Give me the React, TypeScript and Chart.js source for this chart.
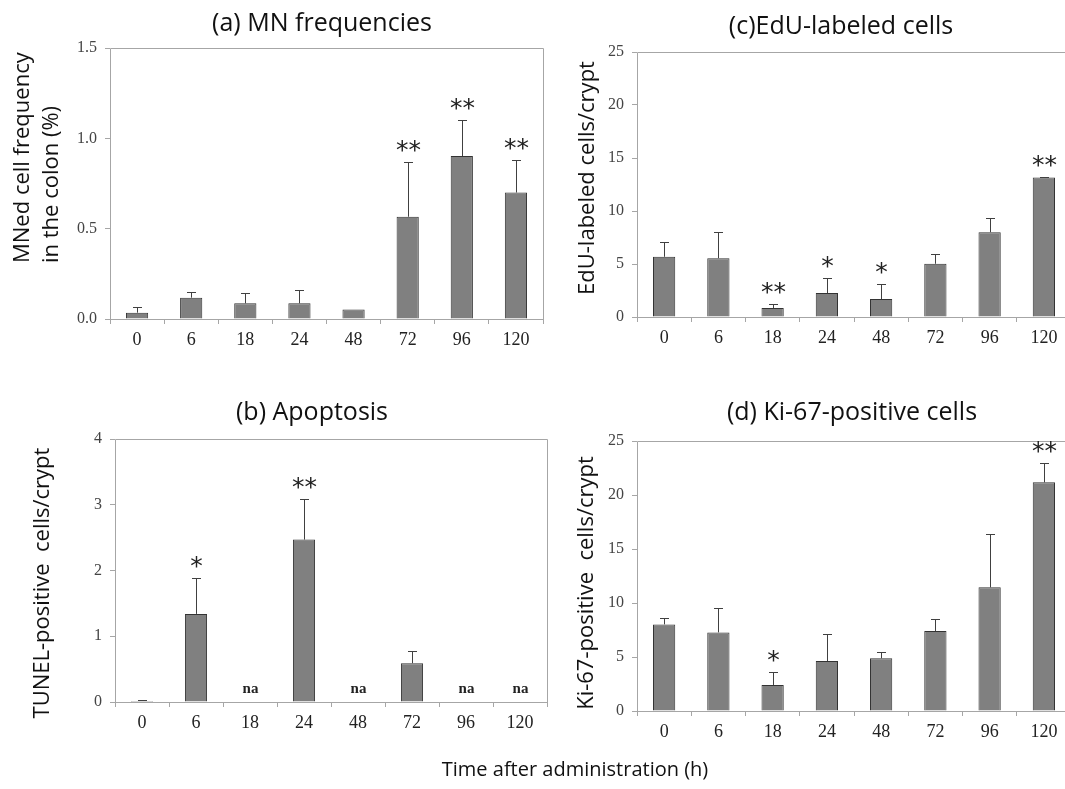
import React, { useEffect, useRef } from 'react';
import { Chart, registerables } from 'chart.js';
Chart.register(...registerables);

const categories = ['0', '6', '18', '24', '48', '72', '96', '120'];

// (a) MN frequencies
const mnMean = [0.035, 0.118, 0.087, 0.087, 0.052, 0.566, 0.902, 0.70];
const mnSD = [0.03, 0.03, 0.057, 0.073, 0, 0.303, 0.198, 0.18];
const mnSig = ['', '', '', '', '', '**', '**', '**'];

// (b) Apoptosis
const apoMean = [0.015, 1.34, null, 2.47, null, 0.59, null, null];
const apoSD = [0.01, 0.55, null, 0.62, null, 0.18, null, null];
const apoSig = ['', '*', '', '**', '', '', '', ''];
const apoNA = [false, false, true, false, true, false, true, true];

// (c) EdU-labeled cells
const eduMean = [5.68, 5.55, 0.85, 2.26, 1.69, 5.02, 8.0, 13.17];
const eduSD = [1.37, 2.51, 0.37, 1.41, 1.41, 0.91, 1.31, 0.03];
const eduSig = ['', '', '**', '*', '*', '', '', '**'];

// (d) Ki-67-positive cells
const kiMean = [8.02, 7.28, 2.41, 4.63, 4.88, 7.41, 11.45, 21.17];
const kiSD = [0.56, 2.26, 1.23, 2.47, 0.61, 1.08, 4.95, 1.83];
const kiSig = ['', '', '*', '', '', '', '', '**'];

const noNA = [false, false, false, false, false, false, false, false];

const W = 1080;
const H = 789;
const Y_W = 70;
const X_H = 40;
const AXIS_COLOR = '#a6a6a6';

type Panel = {
  title: string;
  titleX: number;
  titleY: number;
  yTitle: string[];
  yTitleX: number[];
  yTitleY: number;
  yTitleAlign: CanvasTextAlign;
  area: { l: number; r: number; t: number; b: number };
  rightEdge: boolean;
  max: number;
  step: number;
  decimals: number;
  mean: (number | null)[];
  sd: (number | null)[];
  sig: string[];
  na: boolean[];
  footer?: { text: string; x: number; y: number };
};

const panels: Panel[] = [
  {
    title: '(a) MN frequencies', titleX: 322, titleY: 31,
    yTitle: ['MNed cell frequency', 'in the colon (%)'], yTitleX: [23, 52], yTitleY: 263, yTitleAlign: 'left',
    area: { l: 110, r: 543, t: 48, b: 319 }, rightEdge: true, max: 1.5, step: 0.5, decimals: 1,
    mean: mnMean, sd: mnSD, sig: mnSig, na: noNA,
  },
  {
    title: '(c)EdU-labeled cells', titleX: 841, titleY: 34,
    yTitle: ['EdU-labeled cells/crypt'], yTitleX: [588], yTitleY: 178, yTitleAlign: 'center',
    area: { l: 637, r: 1071, t: 52, b: 317 }, rightEdge: false, max: 25, step: 5, decimals: 0,
    mean: eduMean, sd: eduSD, sig: eduSig, na: noNA,
  },
  {
    title: '(b) Apoptosis', titleX: 312, titleY: 420,
    yTitle: ['TUNEL-positive  cells/crypt'], yTitleX: [43], yTitleY: 583, yTitleAlign: 'center',
    area: { l: 115, r: 547, t: 439, b: 702 }, rightEdge: true, max: 4, step: 1, decimals: 0,
    mean: apoMean, sd: apoSD, sig: apoSig, na: apoNA,
    footer: { text: 'Time after administration (h)', x: 575, y: 776 },
  },
  {
    title: '(d) Ki-67-positive cells', titleX: 852, titleY: 420,
    yTitle: ['Ki-67-positive  cells/crypt'], yTitleX: [587], yTitleY: 583, yTitleAlign: 'center',
    area: { l: 637, r: 1071, t: 441, b: 711 }, rightEdge: false, max: 25, step: 5, decimals: 0,
    mean: kiMean, sd: kiSD, sig: kiSig, na: noNA,
  },
];

const decorPlugin = {
  id: 'decor',
  afterDatasetsDraw(chart: any, _args: any, opts: any) {
    const p: Panel = opts.panel;
    if (!p) return;
    const ctx = chart.ctx as CanvasRenderingContext2D;
    const { left, right, top, bottom } = chart.chartArea;
    const xs = chart.scales.x;
    const ys = chart.scales.y;
    ctx.save();
    // frame
    ctx.strokeStyle = AXIS_COLOR;
    ctx.lineWidth = 1;
    const L = Math.round(left) + 0.5;
    const R = Math.round(right) + 0.5;
    const T = Math.round(top) + 0.5;
    const B = Math.round(bottom) + 0.5;
    ctx.beginPath();
    ctx.moveTo(L, B);
    ctx.lineTo(L, T);
    ctx.lineTo(R, T);
    if (p.rightEdge) ctx.lineTo(R, B);
    ctx.moveTo(L, B);
    ctx.lineTo(R, B);
    ctx.stroke();

    // error bars
    ctx.strokeStyle = '#404040';
    for (let i = 0; i < p.mean.length; i++) {
      const m = p.mean[i];
      const s = p.sd[i];
      const xc = Math.round(xs.getPixelForValue(i)) + 0.5;
      let topPx = m != null ? ys.getPixelForValue(m) : ys.getPixelForValue(0);
      if (m != null && s != null && s > 0) {
        const y0 = ys.getPixelForValue(m);
        const y1 = Math.round(ys.getPixelForValue(m + s)) + 0.5;
        ctx.beginPath();
        ctx.moveTo(xc, y0);
        ctx.lineTo(xc, y1);
        ctx.moveTo(xc - 4.5, y1);
        ctx.lineTo(xc + 4.5, y1);
        ctx.stroke();
        topPx = y1;
      }
      const sg = p.sig[i];
      if (sg) {
        ctx.fillStyle = '#222';
        ctx.font = '25px "DejaVu Sans"';
        ctx.textAlign = 'center';
        ctx.textBaseline = 'alphabetic';
        ctx.fillText(sg, xc, topPx - 5);
      }
      if (p.na[i]) {
        ctx.fillStyle = '#222';
        ctx.font = 'bold 15px "Liberation Serif"';
        ctx.textAlign = 'center';
        ctx.textBaseline = 'alphabetic';
        ctx.fillText('na', xc, ys.getPixelForValue(0) - 9);
      }
    }

    // title
    ctx.fillStyle = '#111';
    ctx.font = '25px "Open Sans"';
    ctx.textAlign = 'center';
    ctx.textBaseline = 'alphabetic';
    ctx.fillText(p.title, p.titleX, p.titleY);

    // y titles
    ctx.font = '22px "Open Sans"';
    for (let k = 0; k < p.yTitle.length; k++) {
      ctx.save();
      ctx.translate(p.yTitleX[k], p.yTitleY);
      ctx.rotate(-Math.PI / 2);
      ctx.textAlign = p.yTitleAlign;
      ctx.textBaseline = 'middle';
      ctx.fillText(p.yTitle[k], 0, 0);
      ctx.restore();
    }

    if (p.footer) {
      ctx.font = '20px "Open Sans"';
      ctx.textAlign = 'center';
      ctx.textBaseline = 'alphabetic';
      ctx.fillText(p.footer.text, p.footer.x, p.footer.y);
    }
    ctx.restore();
  },
};

function PanelChart({ panel }: { panel: Panel }) {
  const ref = useRef<HTMLCanvasElement>(null);
  useEffect(() => {
    if (!ref.current) return;
    const a = panel.area;
    const chart = new Chart(ref.current, {
      type: 'bar',
      data: {
        labels: categories,
        datasets: [
          {
            data: panel.mean as any,
            backgroundColor: '#808080',
            borderColor: '#333333',
            borderWidth: 1,
            barPercentage: 0.41,
            categoryPercentage: 1,
          },
        ],
      },
      options: {
        responsive: false,
        maintainAspectRatio: false,
        animation: false,
        devicePixelRatio: 1,
        layout: {
          padding: { left: a.l - Y_W, right: W - a.r, top: a.t, bottom: H - a.b - X_H },
        },
        plugins: {
          legend: { display: false },
          tooltip: { enabled: false },
          title: { display: false },
          decor: { panel },
        } as any,
        scales: {
          x: {
            type: 'category',
            offset: true,
            grid: { offset: true, drawOnChartArea: false, tickLength: 5, color: AXIS_COLOR },
            border: { display: false },
            ticks: {
              color: '#222',
              font: { family: '"Liberation Serif"', size: 18 },
              padding: 5,
              maxRotation: 0,
              autoSkip: false,
            },
            afterFit: (s: any) => { s.height = X_H; },
          },
          y: {
            min: 0,
            max: panel.max,
            ticks: {
              stepSize: panel.step,
              callback: (v: any) => Number(v).toFixed(panel.decimals),
              color: '#444',
              font: { family: '"Liberation Serif"', size: 16 },
              padding: 8,
            },
            grid: { drawOnChartArea: false, tickLength: 5, color: AXIS_COLOR },
            border: { display: false },
            afterFit: (s: any) => { s.width = Y_W; },
          },
        },
      },
      plugins: [decorPlugin],
    });
    return () => chart.destroy();
  }, [panel]);
  return (
    <canvas
      ref={ref}
      width={W}
      height={H}
      style={{ position: 'absolute', left: 0, top: 0, width: W, height: H, display: 'block' }}
    />
  );
}

export default function App() {
  return (
    <div
      style={{
        position: 'fixed',
        left: 0,
        top: 0,
        width: 1065,
        height: 789,
        overflow: 'hidden',
        background: '#fff',
        clipPath: 'inset(0 0 0 0)',
      }}
    >
      {panels.map((p, i) => (
        <PanelChart key={i} panel={p} />
      ))}
    </div>
  );
}
